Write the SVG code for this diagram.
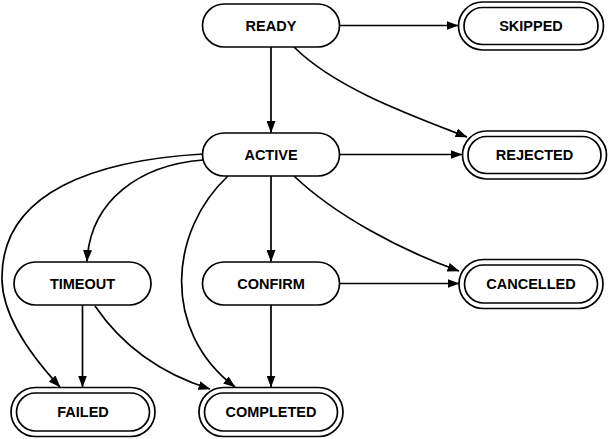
<svg xmlns="http://www.w3.org/2000/svg" width="608" height="439" viewBox="0 0 608 439">
<style>
.n{fill:#fff;stroke:#000;stroke-width:1.7}
.t{font-family:"Liberation Sans",Arial,Helvetica,sans-serif;font-weight:bold;font-size:14.5px;text-anchor:middle;fill:#000}
.e{fill:none;stroke:#000;stroke-width:1.7;marker-end:url(#ah)}
</style>
<defs>
<marker id="ah" viewBox="0 0 12 9" refX="11.5" refY="4.5" markerWidth="12" markerHeight="9" markerUnits="userSpaceOnUse" orient="auto">
<path d="M0,0 L12,4.5 L0,9 z" fill="#000"/>
</marker>
</defs>
<rect width="608" height="439" fill="#fff"/>
<g id="connectors">
<path class="e" d="M340,25.5 L458,25.5"/>
<path class="e" d="M271,47 L271,132.5"/>
<path class="e" d="M294,47 C335,88 410,115 467,137"/>
<path class="e" d="M340,154.5 L462,154.5"/>
<path class="e" d="M271,176 L271,261.5"/>
<path class="e" d="M294,176 C335,215 400,250 459,271"/>
<path class="e" d="M203,160 C140,165 90,200 87,261.5"/>
<path class="e" d="M203,154 C100,160 0,190 2,280 C3,320 35,360 60,387"/>
<path class="e" d="M228,176 C170,230 160,330 235,387"/>
<path class="e" d="M82.5,305 L82.5,387"/>
<path class="e" d="M95,306 C125,350 165,375 210,389"/>
<path class="e" d="M340,283.5 L459,283.5"/>
<path class="e" d="M271,305 L271,387"/>
</g>
<g id="READY">
<rect class="n" x="202.5" y="4" width="137" height="43" rx="21.5"/>
<text class="t" x="271" y="30.5">READY</text>
</g>
<g id="SKIPPED">
<rect class="n" x="458.5" y="2" width="145" height="48" rx="24"/>
<rect class="n" x="464" y="7.5" width="134" height="37" rx="18.5"/>
<text class="t" x="531" y="31">SKIPPED</text>
</g>
<g id="ACTIVE">
<rect class="n" x="202.5" y="133" width="137" height="43" rx="21.5"/>
<text class="t" x="271" y="159.5">ACTIVE</text>
</g>
<g id="REJECTED">
<rect class="n" x="462.5" y="131" width="144" height="48" rx="24"/>
<rect class="n" x="468" y="136.5" width="133" height="37" rx="18.5"/>
<text class="t" x="534.5" y="160">REJECTED</text>
</g>
<g id="TIMEOUT">
<rect class="n" x="14" y="262" width="137" height="43" rx="21.5"/>
<text class="t" x="82.5" y="288.5">TIMEOUT</text>
</g>
<g id="CONFIRM">
<rect class="n" x="202.5" y="262" width="137" height="43" rx="21.5"/>
<text class="t" x="271" y="288.5">CONFIRM</text>
</g>
<g id="CANCELLED">
<rect class="n" x="459" y="259.5" width="144" height="49" rx="24.5"/>
<rect class="n" x="464.5" y="265" width="133" height="38" rx="19"/>
<text class="t" x="531" y="289">CANCELLED</text>
</g>
<g id="FAILED">
<rect class="n" x="11" y="387.5" width="144" height="49" rx="24.5"/>
<rect class="n" x="16.5" y="393" width="133" height="38" rx="19"/>
<text class="t" x="83" y="417">FAILED</text>
</g>
<g id="COMPLETED">
<rect class="n" x="199" y="387.5" width="144" height="49" rx="24.5"/>
<rect class="n" x="204.5" y="393" width="133" height="38" rx="19"/>
<text class="t" x="271" y="417">COMPLETED</text>
</g>
</svg>
